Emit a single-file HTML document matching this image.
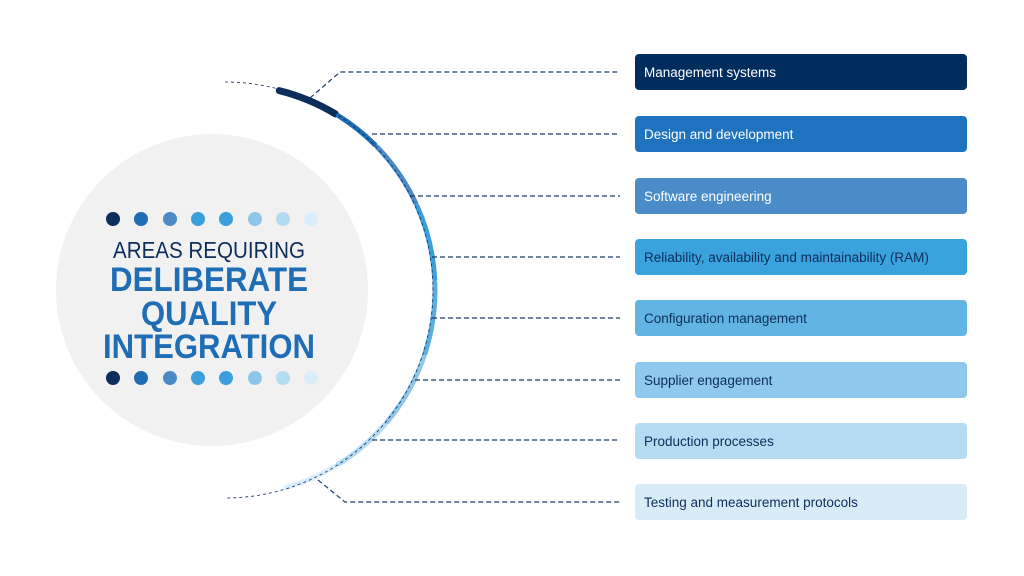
<!DOCTYPE html>
<html><head><meta charset="utf-8"><style>
html,body{margin:0;padding:0;background:#fff;}
.box{position:absolute;left:635px;width:332px;height:36px;border-radius:4px;font:13.5px "Liberation Sans",sans-serif;line-height:37px;padding-left:9px;box-sizing:border-box;}
</style></head><body>
<div style="position:relative;width:1024px;height:576px;overflow:hidden;">
<svg width="1024" height="576" style="position:absolute;left:0;top:0">
<circle cx="212" cy="290" r="156" fill="#f1f1f2"/>
<g fill="none" stroke-width="5" stroke-linecap="round" id="arcs"></g>
<g fill="none">
<path d="M225 82 A205.5 205.5 0 0 1 225 498" stroke="#0d2d5a" stroke-width="0.8" stroke-dasharray="3 3"/>
</g>
<g stroke="#1d3d6a" stroke-width="1.2" stroke-dasharray="5 3" fill="none">
<polyline points="310,98 340,72 620,72"/>
<line x1="372" y1="134" x2="620" y2="134"/>
<line x1="410" y1="196" x2="620" y2="196"/>
<line x1="432" y1="257" x2="620" y2="257"/>
<line x1="432" y1="318" x2="620" y2="318"/>
<line x1="415" y1="380" x2="620" y2="380"/>
<line x1="372" y1="440" x2="620" y2="440"/>
<polyline points="318,480 345,502 620,502"/>
</g>
<g>
<circle cx="113" cy="219" r="7" fill="#0d2d5a"/><circle cx="141" cy="219" r="7" fill="#1f6db5"/><circle cx="170" cy="219" r="7" fill="#4b8ac6"/><circle cx="198" cy="219" r="7" fill="#3a9fdb"/><circle cx="226" cy="219" r="7" fill="#3a9fdb"/><circle cx="255" cy="219" r="7" fill="#8ec6ea"/><circle cx="283" cy="219" r="7" fill="#b3dbf2"/><circle cx="311" cy="219" r="7" fill="#d9eefa"/>
<circle cx="113" cy="378" r="7" fill="#0d2d5a"/><circle cx="141" cy="378" r="7" fill="#1f6db5"/><circle cx="170" cy="378" r="7" fill="#4b8ac6"/><circle cx="198" cy="378" r="7" fill="#3a9fdb"/><circle cx="226" cy="378" r="7" fill="#3a9fdb"/><circle cx="255" cy="378" r="7" fill="#8ec6ea"/><circle cx="283" cy="378" r="7" fill="#b3dbf2"/><circle cx="311" cy="378" r="7" fill="#d9eefa"/>
</g>
<g font-family="Liberation Sans, sans-serif" text-anchor="middle">
<text x="209" y="258" font-size="23" fill="#0d2d5a" textLength="192" lengthAdjust="spacingAndGlyphs">AREAS REQUIRING</text>
<text x="209" y="291" font-size="34" font-weight="bold" fill="#1f6db5" textLength="198" lengthAdjust="spacingAndGlyphs">DELIBERATE</text>
<text x="209" y="325" font-size="34" font-weight="bold" fill="#1f6db5" textLength="136" lengthAdjust="spacingAndGlyphs">QUALITY</text>
<text x="209" y="358" font-size="34" font-weight="bold" fill="#1f6db5" textLength="212" lengthAdjust="spacingAndGlyphs">INTEGRATION</text>
</g>
</svg>
<div class="box" style="top:54px;background:#002d5e;color:#fff">Management systems</div>
<div class="box" style="top:116px;background:#1f72bd;color:#fff">Design and development</div>
<div class="box" style="top:178px;background:#4a8cc8;color:#fff">Software engineering</div>
<div class="box" style="top:239px;background:#3aa2dd;color:#0d2d5a">Reliability, availability and maintainability (RAM)</div>
<div class="box" style="top:300px;background:#62b4e3;color:#0d2d5a">Configuration management</div>
<div class="box" style="top:362px;background:#8ec8ec;color:#0d2d5a">Supplier engagement</div>
<div class="box" style="top:423px;background:#b5dcf2;color:#0d2d5a">Production processes</div>
<div class="box" style="top:484px;background:#d8ecf8;color:#0d2d5a">Testing and measurement protocols</div>
</div>
<script>
var cx=229.5,cy=290,r=205.5,g=document.getElementById('arcs');
var segs=[[-76,-59,'#0d2d5a',7],[-58,-45,'#1f6db5',5],[-44,-25,'#4b8ac6',5],[-24,-3,'#3a9fdb',5],[-2,18,'#5aaee0',5],[19,40,'#8ec6ea',5],[41,58,'#b3dbf2',5],[59,74,'#d9eefa',5]];
segs.forEach(function(s){var a=s[0]*Math.PI/180,b=s[1]*Math.PI/180;
var p=document.createElementNS('http://www.w3.org/2000/svg','path');
p.setAttribute('d','M'+(cx+r*Math.cos(a))+' '+(cy+r*Math.sin(a))+' A'+r+' '+r+' 0 0 1 '+(cx+r*Math.cos(b))+' '+(cy+r*Math.sin(b)));
p.setAttribute('stroke',s[2]);p.setAttribute('stroke-width',s[3]);g.appendChild(p);});
</script>
</body></html>
